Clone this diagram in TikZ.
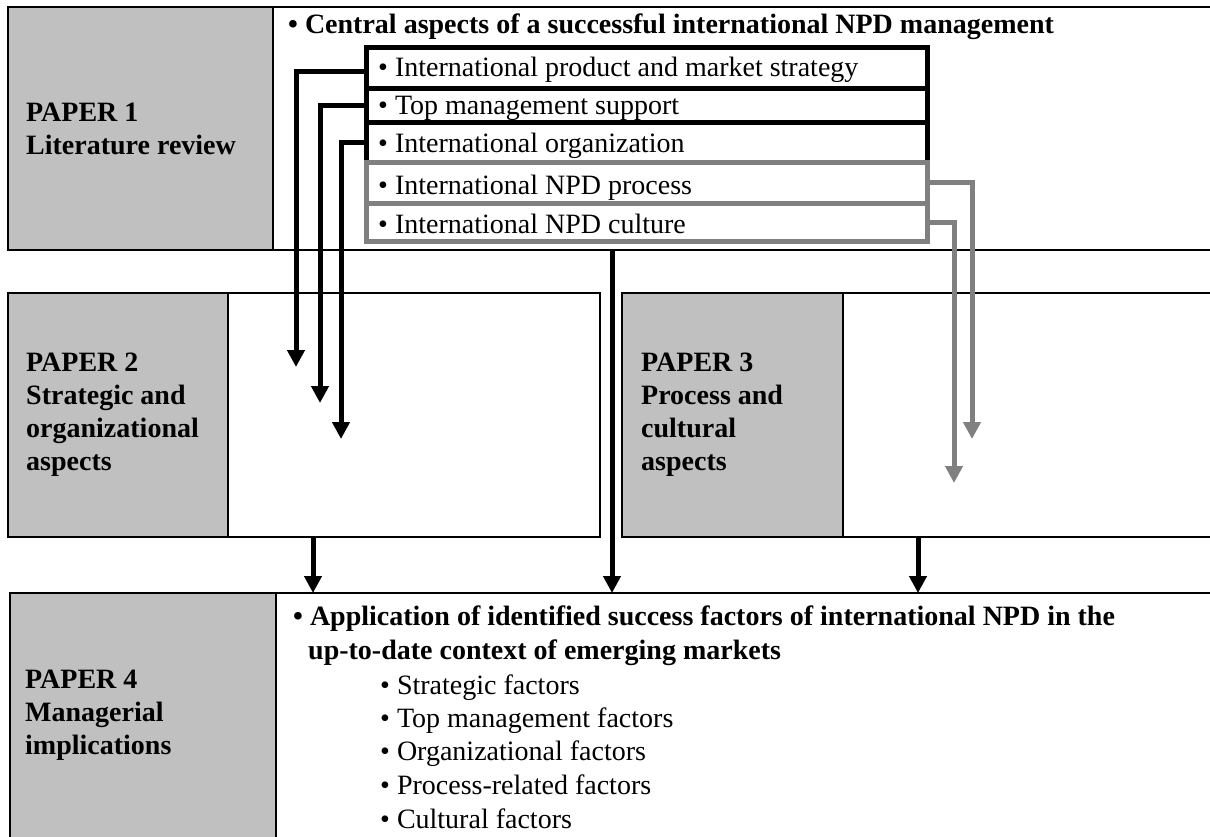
\documentclass[tikz,border=0pt]{standalone}
\usepackage{fontspec}
\setmainfont{Liberation Serif}
\usetikzlibrary{arrows.meta}
\definecolor{paperfill}{HTML}{C0C0C0}
\definecolor{itemgray}{HTML}{808080}
\begin{document}
\begin{tikzpicture}[x=1pt,y=-1pt,
  greybox/.style={draw=black, line width=1.5pt, fill=paperfill, anchor=north west, inner sep=0pt, outer sep=0pt},
  whitebox/.style={draw=black, line width=1.5pt, fill=white, anchor=north west, inner sep=0pt, outer sep=0pt},
  blackitem/.style={draw=black, line width=5pt, fill=white, anchor=north west, inner sep=0pt, outer sep=0pt, minimum width=561pt},
  grayitem/.style={draw=itemgray, line width=5pt, fill=white, anchor=north west, inner sep=0pt, outer sep=0pt, minimum width=561pt},
  lbl/.style={font=\fontsize{28}{33}\selectfont\bfseries, anchor=west, align=left, inner sep=0pt},
  hdr/.style={font=\fontsize{28}{34}\selectfont\bfseries, anchor=base west, inner sep=0pt},
  txt/.style={font=\fontsize{28}{34}\selectfont, anchor=base west, inner sep=0pt},
  blkarrow/.style={draw=black, line width=5pt, -{Triangle[width=17pt,length=17pt]}},
  grayarrow/.style={draw=itemgray, line width=5pt, -{Triangle[width=17pt,length=17pt]}},
]
\useasboundingbox (0,0) rectangle (1210,836);
\clip (0,0) rectangle (1210,836);

% PAPER 1
\node[whitebox, minimum width=960pt, minimum height=243pt] (p1w) at (273,7) {};
\node[greybox, minimum width=265pt, minimum height=243pt] (p1g) at (8,7) {};
\node[lbl, xshift=18pt] (p1l) at (p1g.west) {PAPER 1\\Literature review};
\node[hdr] (h1) at (288,33) {\textbullet\ Central aspects of a successful international NPD management};

% items
\node[blackitem, minimum height=41pt] (b1) at (366,47) {};
\node[blackitem, minimum height=34pt] (b2) at (366,88) {};
\node[blackitem, minimum height=40pt] (b3) at (366,122) {};
\node[grayitem, minimum height=41pt] (b4) at (366,162) {};
\node[grayitem, minimum height=38pt] (b5) at (366,203) {};
\node[txt] (t1) at (378,76) {\textbullet\ International product and market strategy};
\node[txt] (t2) at (378,114) {\textbullet\ Top management support};
\node[txt] (t3) at (378,152) {\textbullet\ International organization};
\node[txt] (t4) at (378,194) {\textbullet\ International NPD process};
\node[txt] (t5) at (378,233) {\textbullet\ International NPD culture};
% redraw gray borders over text (as in the reference)
\draw[draw=itemgray, line width=5pt] (b4.north west) rectangle (b4.south east);
\draw[draw=itemgray, line width=5pt] (b5.north west) rectangle (b5.south east);

% PAPER 2
\node[whitebox, minimum width=372pt, minimum height=244pt] (p2w) at (228,293) {};
\node[greybox, minimum width=220pt, minimum height=244pt] (p2g) at (8,293) {};
\node[lbl, xshift=18pt] (p2l) at (p2g.west) {PAPER 2\\Strategic and\\organizational\\aspects};

% PAPER 3
\node[whitebox, minimum width=400pt, minimum height=244pt] (p3w) at (843,293) {};
\node[greybox, minimum width=221pt, minimum height=244pt] (p3g) at (622,293) {};
\node[lbl, xshift=19pt] (p3l) at (p3g.west) {PAPER 3\\Process and\\cultural\\aspects};

% PAPER 4
\node[whitebox, minimum width=960pt, minimum height=260pt] (p4w) at (276,593) {};
\node[greybox, minimum width=266pt, minimum height=260pt] (p4g) at (10,593) {};
\node[lbl, xshift=15pt, yshift=8pt] (p4l) at (p4g.west) {PAPER 4\\Managerial\\implications};
\node[hdr] (h4a) at (293,625) {\textbullet\ Application of identified success factors of international NPD in the};
\node[hdr] (h4b) at (308,659) {up-to-date context of emerging markets};
\node[txt] (f1) at (380,694) {\textbullet\ Strategic factors};
\node[txt] (f2) at (380,727) {\textbullet\ Top management factors};
\node[txt] (f3) at (380,760) {\textbullet\ Organizational factors};
\node[txt] (f4) at (380,794) {\textbullet\ Process-related factors};
\node[txt] (f5) at (380,828) {\textbullet\ Cultural factors};

% arrow end coordinates
\coordinate (e1) at (296,367);
\coordinate (e2) at (320,403);
\coordinate (e3) at (341,439);
\coordinate (e4) at (972,439);
\coordinate (e5) at (954,483);
\coordinate (xa) at (313,0);
\coordinate (xm) at (612,0);
\coordinate (xb) at (918,0);

% connectors
\draw[blkarrow] ([yshift=-4pt]b1.west) -| (e1);
\draw[blkarrow] (b2.west) -| (e2);
\draw[blkarrow] (b3.west) -| (e3);
\draw[grayarrow] (b4.east) -| (e4);
\draw[grayarrow] (b5.east) -| (e5);
\draw[blkarrow] (p1w.south -| xm) -- (p4w.north -| xm);
\draw[blkarrow] (p2w.south -| xa) -- (p4w.north -| xa);
\draw[blkarrow] (p3w.south -| xb) -- (p4w.north -| xb);
\end{tikzpicture}
\end{document}
